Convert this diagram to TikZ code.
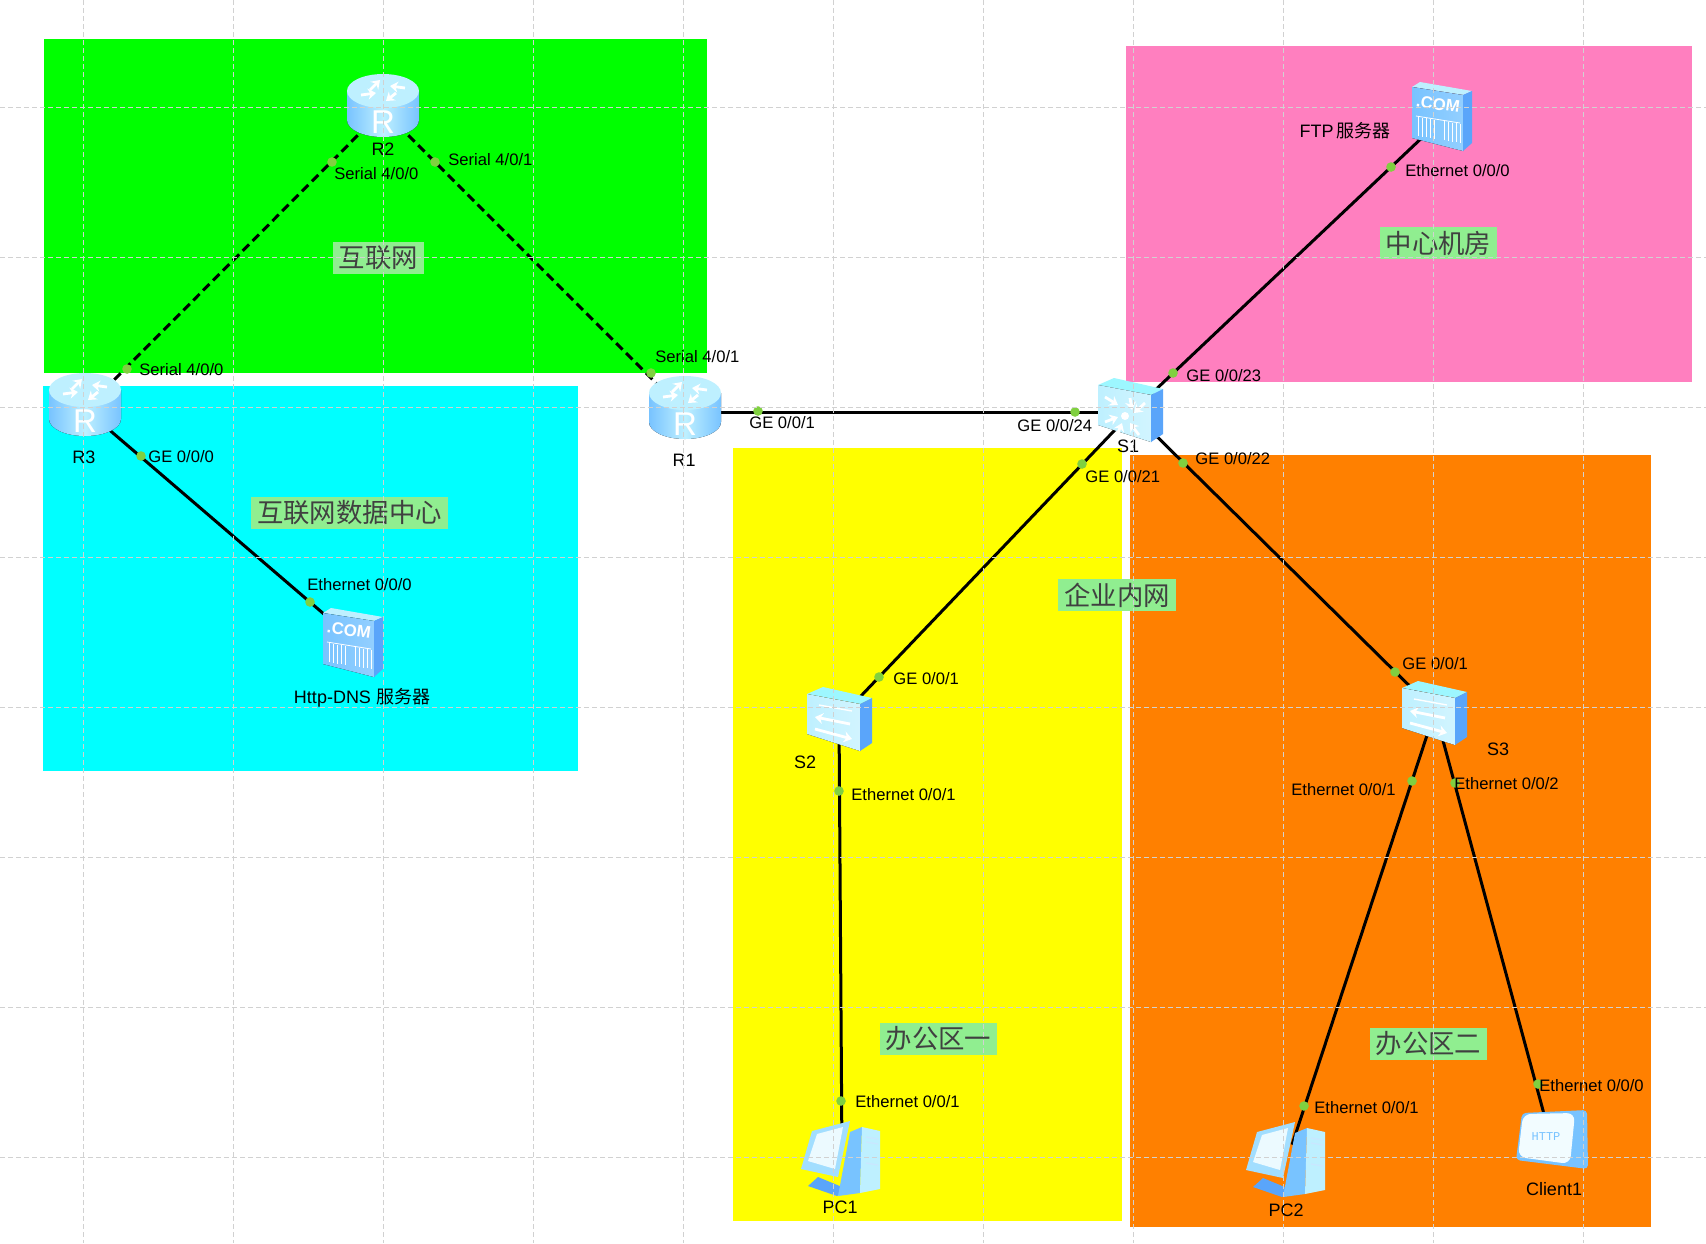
\documentclass[tikz,border=0pt]{standalone}
\usepackage{fontspec}
\setmainfont{Liberation Sans}
\newfontfamily\cjk{Noto Sans CJK SC}
\newfontfamily\iconmono{Liberation Mono}
\usepackage{xcolor}
\usetikzlibrary{arrows.meta}
\definecolor{zonegreen}{RGB}{0,255,0}
\definecolor{zonecyan}{RGB}{0,255,255}
\definecolor{zonepink}{RGB}{255,127,191}
\definecolor{zoneyellow}{RGB}{255,255,0}
\definecolor{zoneorange}{RGB}{255,128,0}
\definecolor{tagfill}{RGB}{144,238,144}
\definecolor{portdot}{RGB}{128,208,64}
\definecolor{iconlight}{RGB}{190,240,255}
\definecolor{iconmid}{RGB}{120,195,255}
\definecolor{icondark}{RGB}{90,165,250}
\tikzset{
    dev/.style={rectangle, minimum size=15pt, inner sep=0pt},
    link/.style={line width=1.5pt, black},
    seriallink/.style={link, dash pattern=on 4.5pt off 2.5pt},
    port/.style={circle, fill=portdot, minimum size=4.8pt, inner sep=0pt},
    iflabel/.style={anchor=west, inner sep=0pt, yshift=-0.4pt, font=\fontsize{8.3}{10}\selectfont},
    devlabel/.style={inner sep=0pt, font=\fontsize{9}{11}\selectfont},
    tag/.style={fill=tagfill, inner xsep=3pt, inner ysep=0pt, minimum height=16pt, text=black!75, font=\fontsize{13.2}{15}\cjk},
    gridline/.style={black!18, line width=0.5pt, dash pattern=on 2.5pt off 1.5pt},
    iconarrow/.style={white, line width=1.4pt, -{Stealth[length=4pt,width=5.5pt]}},
    pics/routericon/.style={code={
        \fill[left color=iconmid, right color=iconmid, middle color=iconlight] (-36,-14) -- (-36,15) arc[start angle=180, end angle=0, x radius=36, y radius=17] -- (36,-14) -- cycle;
        \fill[iconlight] (0,-14) ellipse[x radius=36, y radius=17];
        \draw[iconarrow] (-13,-15) -- (-3,-25);
        \draw[iconarrow] (-22,-10) -- (-7,-12);
        \draw[iconarrow] (22,-17) -- (7,-19);
        \draw[iconarrow] (13,-12) -- (3,-4);
        \node[text=white, inner sep=0pt, font=\fontsize{16.5}{18}\selectfont] (-glyph) at (0,17) {R};
    }},
    pics/switchbox/.style={code={
        \fill[iconlight!70!cyan!80] (-32,-25) -- (-16,-32) -- (33,-21) -- (21,-15) -- cycle;
        \fill[left color=iconlight, right color=iconlight!70!white] (-32,-25) -- (21,-15) -- (21,32) -- (-32,15) -- cycle;
        \fill[icondark] (21,-15) -- (33,-21) -- (33,24) -- (21,32) -- cycle;
    }},
    pics/switchicon/.style={code={
        \pic (-box) {switchbox};
        \draw[white, line width=0.7pt] (-20,-14) -- (13,-8);
        \draw[iconarrow] (11,5) -- (-24,-2);
        \draw[iconarrow] (-24,10) -- (13,20);
    }},
    pics/coreicon/.style={code={
        \pic (-box) {switchbox};
        \fill[white] (-5,6) circle[radius=4];
        \draw[iconarrow] (-25,-13) -- (-12,-5);
        \draw[iconarrow] (0,-12) -- (2,0);
        \draw[iconarrow] (15,-7) -- (4,3);
        \draw[iconarrow] (-25,12) -- (-12,7);
        \draw[iconarrow] (-13,25) -- (-8,13);
        \draw[iconarrow] (9,25) -- (0,13);
    }},
    pics/servericon/.style={code={
        \fill[iconlight] (-30,-29) -- (-22,-34) -- (30,-25) -- (21,-21) -- cycle;
        \fill[left color=iconmid, right color=iconmid!80!white] (-30,-29) -- (21,-21) -- (21,35) -- (-30,22) -- cycle;
        \fill[icondark] (21,-21) -- (30,-25) -- (30,27) -- (21,35) -- cycle;
        \node[text=white, inner sep=0pt, rotate=-8, font=\fontsize{8.4}{9}\bfseries] (-glyph) at (-4,-12) {.COM};
        \draw[white, line width=0.4pt] (-26,0) -- (18,7);
        \foreach \vx [evaluate=\vx as \vy using 0.157*\vx] in {-24,-20,-16,-12,-8,2,6,10,14,18}
            \draw[white, line width=0.4pt] (\vx,{\vy+5}) -- (\vx,{\vy+24});
    }},
    pics/pcicon/.style={code={
        \fill[icondark] (-32,27) -- (-22,18) -- (7,30) -- (-3,37) -- cycle;
        \fill[iconmid] (10,-27) -- (22,-32) -- (20,34) -- (-2,37) -- cycle;
        \fill[iconlight] (22,-32) -- (40,-28) -- (40,30) -- (20,34) -- cycle;
        \fill[iconlight!60!iconmid] (-28,-28) -- (10,-38) -- (-2,18) -- (-39,10) -- cycle;
        \fill[white!70!iconlight] (-23,-25) -- (3,-32) -- (-5,10) -- (-32,2) -- cycle;
        \draw[white!60!iconmid, line width=0.6pt] (26,-22) -- (38,-20) (26,-17) -- (38,-15) (26,4) -- (38,6);
    }},
    pics/clienticon/.style={code={
        \fill[iconmid, rounded corners=2pt] (-30,-27) -- (35,-30) -- (36,29) -- (-36,20) -- cycle;
        \fill[white!80!iconlight, rounded corners=4pt] (-29,-26) -- (23,-27) -- (18,24) -- (-34,17) -- cycle;
        \node[text=iconmid, inner sep=0pt, font=\fontsize{6}{6}\iconmono] (-glyph) at (-6,-3) {HTTP};
    }}
}
\begin{document}
\begin{tikzpicture}[x=0.5pt, y=-0.5pt]
\useasboundingbox[fill=white] (0,0) rectangle (1706,1243);

% zones
\fill[zonegreen] (44,39) rectangle (707,373);
\fill[zonecyan] (43,386) rectangle (578,771);
\fill[zonepink] (1126,46) rectangle (1692,382);
\fill[zoneyellow] (733,448) rectangle (1122,1221);
\fill[zoneorange] (1130,455) rectangle (1651,1227);

% devices
\node[dev] (R2) at (383,110) {};
\node[dev] (R3) at (85,409) {};
\node[dev] (R1) at (685,412) {};
\node[dev] (S1) at (1132,412) {};
\node[dev] (S2) at (839,719) {};
\node[dev] (S3) at (1435,711) {};
\node[dev] (ftp) at (1445,116) {};
\node[dev] (http) at (353,639) {};
\node[dev] (pc1) at (842,1159) {};
\node[dev] (pc2) at (1287,1160) {};
\node[dev] (client) at (1551,1140) {};

% connectors
\draw[seriallink] (R2) -- (R3);
\draw[seriallink] (R2) -- (R1);
\draw[link] (R3) -- (http);
\draw[link] (R1) -- (S1);
\draw[link] (S1) -- (ftp);
\draw[link] (S1) -- (S2);
\draw[link] (S1) -- (S3);
\draw[link] (S2) -- (pc1);
\draw[link] (S3) -- (pc2);
\draw[link] (S3) -- (client);

% icons
\pic[shift={(0,-5)}] (R2icon) at (R2) {routericon};
\pic[shift={(0,-5)}] (R3icon) at (R3) {routericon};
\pic[shift={(0,-5)}] (R1icon) at (R1) {routericon};
\pic[shift={(-2,-2)}] (S1icon) at (S1) {coreicon};
\pic (S2icon) at (S2) {switchicon};
\pic[shift={(-1,2)}] (S3icon) at (S3) {switchicon};
\pic[shift={(-3,0)}] (ftpicon) at (ftp) {servericon};
\pic[shift={(0,3)}] (httpicon) at (http) {servericon};
\pic[shift={(-2,0)}] (pc1icon) at (pc1) {pcicon};
\pic[shift={(-2,0)}] (pc2icon) at (pc2) {pcicon};
\pic[shift={(1,0)}] (clienticon) at (client) {clienticon};

% ports
\node[port] (p1) at (332,162) {};
\node[port] (p2) at (435,162) {};
\node[port] (p3) at (127,369) {};
\node[port] (p4) at (651,373) {};
\node[port] (p5) at (141,456) {};
\node[port] (p6) at (310,602) {};
\node[port] (p7) at (758,411) {};
\node[port] (p8) at (1075,412) {};
\node[port] (p9) at (1173,373) {};
\node[port] (p10) at (1391,167) {};
\node[port] (p11) at (1082,464) {};
\node[port] (p12) at (879,677) {};
\node[port] (p13) at (1183,463) {};
\node[port] (p14) at (1395,672) {};
\node[port] (p15) at (839,791) {};
\node[port] (p16) at (841,1101) {};
\node[port] (p17) at (1412,781) {};
\node[port] (p18) at (1304,1106) {};
\node[port] (p19) at (1455,783) {};
\node[port] (p20) at (1538,1084) {};

% interface labels
\node[iflabel] (l1) at (334,173) {Serial 4/0/0};
\node[iflabel] (l2) at (448,159) {Serial 4/0/1};
\node[iflabel] (l3) at (139,369) {Serial 4/0/0};
\node[iflabel] (l4) at (655,356) {Serial 4/0/1};
\node[iflabel] (l5) at (148,456) {GE 0/0/0};
\node[iflabel] (l6) at (307,584) {Ethernet 0/0/0};
\node[iflabel] (l7) at (749,422) {GE 0/0/1};
\node[iflabel] (l8) at (1017,425) {GE 0/0/24};
\node[iflabel] (l9) at (1186,375) {GE 0/0/23};
\node[iflabel] (l10) at (1195,458) {GE 0/0/22};
\node[iflabel] (l11) at (1085,476) {GE 0/0/21};
\node[iflabel] (l12) at (1405,170) {Ethernet 0/0/0};
\node[iflabel] (l13) at (893,678) {GE 0/0/1};
\node[iflabel] (l14) at (851,794) {Ethernet 0/0/1};
\node[iflabel] (l15) at (855,1101) {Ethernet 0/0/1};
\node[iflabel] (l16) at (1402,663) {GE 0/0/1};
\node[iflabel] (l17) at (1291,789) {Ethernet 0/0/1};
\node[iflabel] (l18) at (1454,783) {Ethernet 0/0/2};
\node[iflabel] (l19) at (1314,1107) {Ethernet 0/0/1};
\node[iflabel] (l20) at (1539,1085) {Ethernet 0/0/0};

% device names
\node[devlabel] (nR2) at (383,149) {R2};
\node[devlabel] (nR3) at (84,457) {R3};
\node[devlabel] (nR1) at (684,460) {R1};
\node[devlabel] (nS1) at (1128,446) {S1};
\node[devlabel] (nS2) at (805,762) {S2};
\node[devlabel] (nS3) at (1498,749) {S3};
\node[devlabel] (nhttp) at (362,698) {Http-DNS {\cjk 服务器}};
\node[devlabel] (nftp) at (1345,131) {FTP\,{\cjk 服务器}};
\node[devlabel] (npc1) at (840,1207) {PC1};
\node[devlabel] (npc2) at (1286,1210) {PC2};
\node[devlabel] (nclient) at (1554,1189) {Client1};

% zone tags
\node[tag] (t1) at (378.5,258) {互联网};
\node[tag] (t2) at (349.5,513) {互联网数据中心};
\node[tag] (t3) at (1438.5,243) {中心机房};
\node[tag] (t4) at (1117,595) {企业内网};
\node[tag] (t5) at (938.5,1039) {办公区一};
\node[tag] (t6) at (1428.5,1044) {办公区二};

% grid
\foreach \gx in {83,233,383,533,683,833,983,1133,1283,1433,1583}
    \draw[gridline] (\gx,0) -- (\gx,1243);
\foreach \gy in {107,257,407,557,707,857,1007,1157}
    \draw[gridline] (0,\gy) -- (1706,\gy);

\end{tikzpicture}
\end{document}
